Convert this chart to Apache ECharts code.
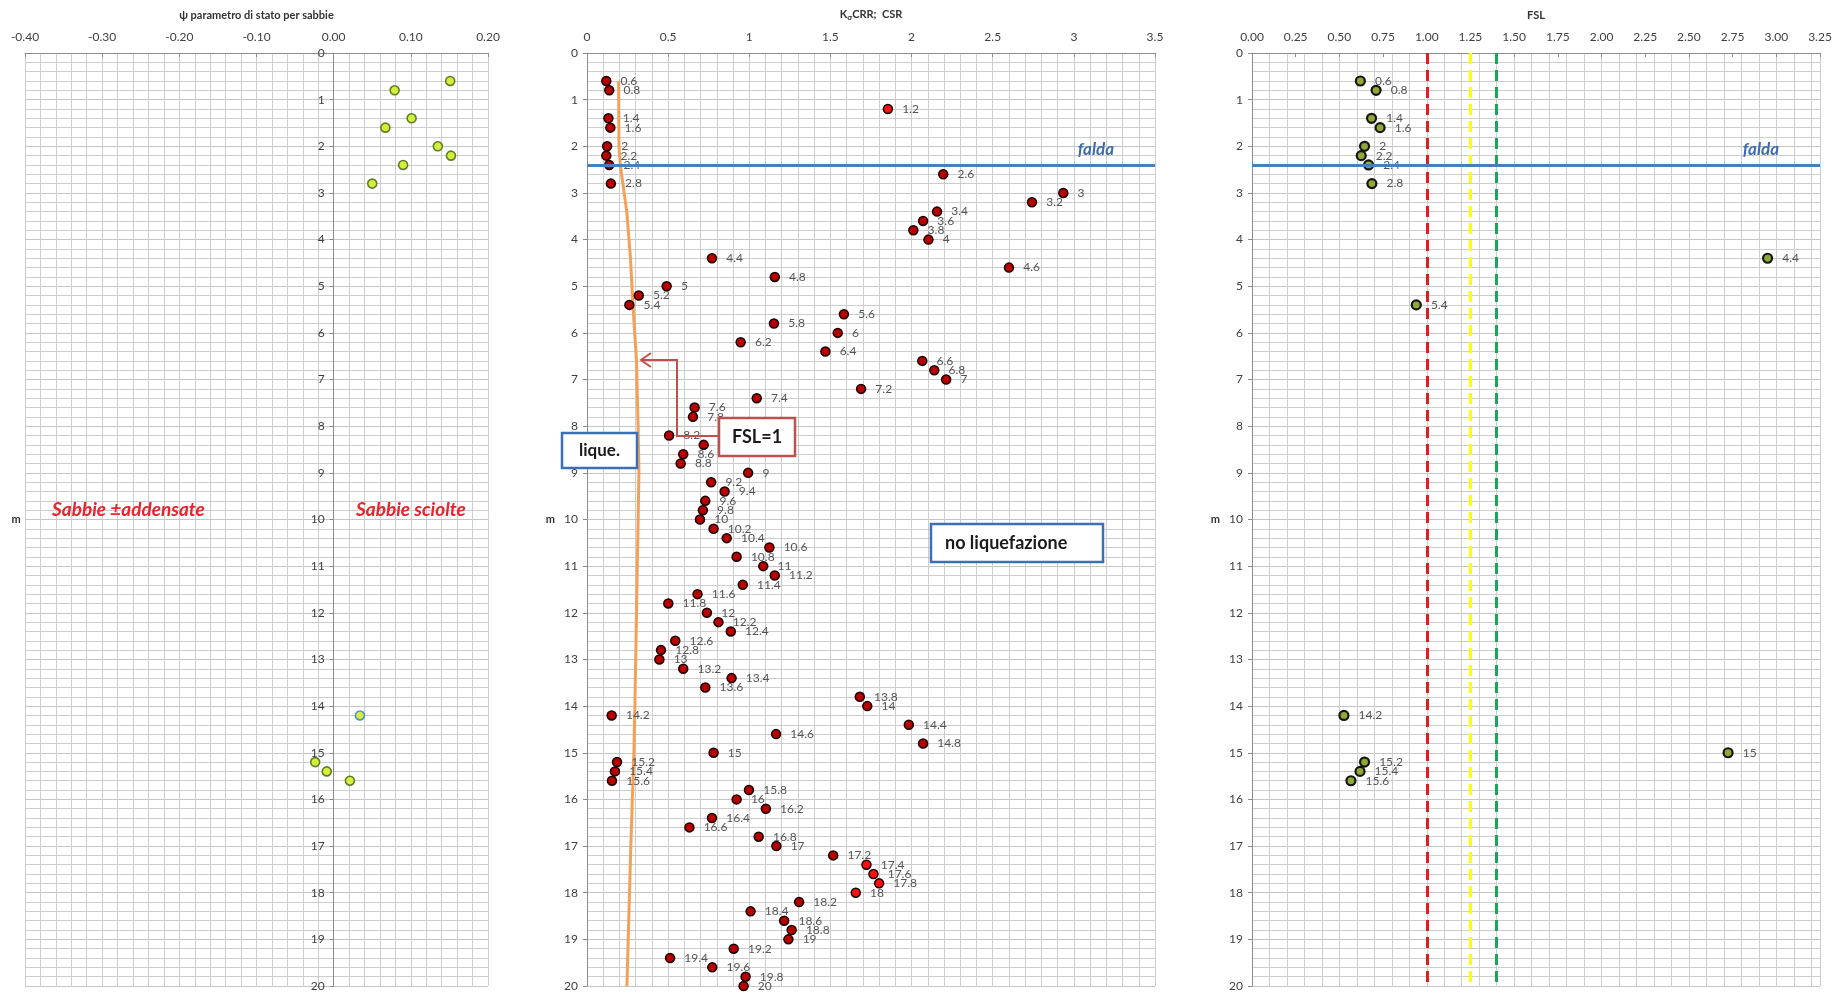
<!DOCTYPE html>
<html><head><meta charset="utf-8">
<script src="https://cdn.jsdelivr.net/npm/echarts@6/dist/echarts.min.js"></script>
<style>html,body{margin:0;padding:0;background:#fff}#c{width:1842px;height:1002px}</style>
</head><body><div id="c"></div>
<script>
// ---------- DATA ----------
const depthTicks = [0,1,2,3,4,5,6,7,8,9,10,11,12,13,14,15,16,17,18,19,20];

// Panel 1: state parameter psi
const psiDepths = [0.6,0.8,1.4,1.6,2.0,2.2,2.4,2.8,14.2,15.2,15.4,15.6];
const psiValues = [0.151,0.079,0.101,0.067,0.135,0.152,0.090,0.050,0.034,-0.024,-0.009,0.021];
const psiBlueEdge = [14.2];

// Panel 2: K_sigma CRR points and CSR curve
const crrDepths = [0.6,0.8,1.2,1.4,1.6,2.0,2.2,2.4,2.6,2.8,3.0,3.2,3.4,3.6,3.8,4.0,4.4,4.6,4.8,5.0,5.2,5.4,5.6,5.8,6.0,6.2,6.4,6.6,6.8,7.0,7.2,7.4,7.6,7.8,8.2,8.4,8.6,8.8,9.0,9.2,9.4,9.6,9.8,10.0,10.2,10.4,10.6,10.8,11.0,11.2,11.4,11.6,11.8,12.0,12.2,12.4,12.6,12.8,13.0,13.2,13.4,13.6,13.8,14.0,14.2,14.4,14.6,14.8,15.0,15.2,15.4,15.6,15.8,16.0,16.2,16.4,16.6,16.8,17.0,17.2,17.4,17.6,17.8,18.0,18.2,18.4,18.6,18.8,19.0,19.2,19.4,19.6,19.8,20.0];
const crrValues = [0.119,0.137,1.854,0.132,0.144,0.124,0.119,0.137,2.195,0.147,2.935,2.742,2.157,2.071,2.011,2.104,0.770,2.600,1.157,0.491,0.319,0.261,1.583,1.152,1.545,0.947,1.469,2.066,2.140,2.213,1.689,1.046,0.663,0.653,0.506,0.719,0.593,0.577,0.993,0.765,0.848,0.729,0.714,0.696,0.780,0.861,1.124,0.922,1.086,1.157,0.960,0.681,0.501,0.739,0.810,0.886,0.544,0.456,0.446,0.593,0.891,0.729,1.681,1.727,0.152,1.983,1.165,2.071,0.780,0.185,0.172,0.154,0.998,0.922,1.102,0.770,0.631,1.058,1.167,1.517,1.722,1.765,1.800,1.656,1.307,1.008,1.215,1.261,1.241,0.904,0.512,0.772,0.977,0.965];
const crrBright = [1.2,17.4,17.6,17.8,18.0];
const csrDepths = [0.6,2.0,2.4,3.4,4.4,5.4,6.6,8.0,9.0,10.0,12.0,14.0,15.0,17.0,18.0,20.0];
const csrValues = [0.195,0.197,0.205,0.245,0.268,0.283,0.305,0.315,0.320,0.315,0.305,0.295,0.289,0.270,0.262,0.246];

// Panel 3: FSL
const fslDepths = [0.6,0.8,1.4,1.6,2.0,2.2,2.4,2.8,4.4,5.4,14.2,15.0,15.2,15.4,15.6];
const fslValues = [0.620,0.710,0.684,0.733,0.644,0.625,0.667,0.686,2.950,0.940,0.526,2.724,0.644,0.618,0.566];
const fslThresholds = [1.0, 1.25, 1.4];

const faldaDepth = 2.4;

// ---------- CHART ----------
const FONT = 'Lato, "Liberation Sans", sans-serif';
const TXT = '#404040';
const GRIDC = '#cdcdcd';
const chart = echarts.init(document.getElementById('c'), null, {renderer:'canvas'});

const grids = [
  {left: 25, top: 53, width: 463, height: 933, containLabel: false, outerBoundsMode: 'none'},
  {left: 587, top: 53, width: 568, height: 933, containLabel: false, outerBoundsMode: 'none'},
  {left: 1252, top: 53, width: 568, height: 933, containLabel: false, outerBoundsMode: 'none'}
];
const psiMin = -0.4, psiMax = 0.2;
// shift of panel-1 depth axis from the grid's left edge to psi = 0
const psiZeroOffset = grids[0].width * (0 - psiMin) / (psiMax - psiMin);

function xAxisTop(gi, min, max, interval, name, fmt, minorSplit, extra) {
  return Object.assign({
    type: 'value', gridIndex: gi, position: 'top', min, max, interval,
    name, nameLocation: 'middle', nameGap: 32,
    nameTextStyle: {fontFamily: FONT, fontWeight: 'bold', fontSize: 11, color: '#333'},
    axisLine: {show: true, onZero: false, lineStyle: {color: '#8c8c8c', width: 1}},
    axisTick: {show: true, length: 4, inside: true, lineStyle: {color: '#8c8c8c'}},
    axisLabel: {fontFamily: FONT, fontSize: 12, color: TXT, margin: 10, formatter: fmt},
    splitLine: {show: true, lineStyle: {color: GRIDC, width: 1}},
    minorTick: {show: false},
    minorSplitLine: {show: !!minorSplit, lineStyle: {color: GRIDC, width: 1}},
  }, minorSplit ? {minorTick: {show: false, splitNumber: minorSplit}} : {}, extra || {});
}
function yAxisDepth(gi, nameGap, offset) {
  return {
    type: 'value', gridIndex: gi, inverse: true, min: 0, max: 20, interval: 1,
    position: 'left', offset: offset || 0,
    name: 'm', nameLocation: 'middle', nameRotate: 0, nameGap,
    nameTextStyle: {fontFamily: FONT, fontWeight: 'bold', fontSize: 11, color: '#333'},
    axisLine: {show: true, onZero: false, lineStyle: {color: '#8c8c8c', width: 1}},
    axisTick: {show: true, length: 4, lineStyle: {color: '#8c8c8c'}},
    axisLabel: {fontFamily: FONT, fontSize: 12, color: TXT, margin: 9,
      formatter: v => depthTicks.indexOf(v) >= 0 ? String(v) : ''},
    splitLine: {show: true, lineStyle: {color: '#c4c4c4', width: 1}},
    minorTick: {show: false, splitNumber: 5},
    minorSplitLine: {show: true, lineStyle: {color: GRIDC, width: 1}}
  };
}

const psiData = psiDepths.map((d, i) => ({
  value: [psiValues[i], d],
  itemStyle: {borderColor: psiBlueEdge.indexOf(d) >= 0 ? '#4f8fd6' : '#5b7f2a'}
}));
const crrData = crrDepths.map((d, i) => ({
  value: [crrValues[i], d],
  itemStyle: {color: crrBright.indexOf(d) >= 0 ? '#ff1010' : '#b80000'}
}));
const csrData = csrDepths.map((d, i) => [csrValues[i], d]);
const fslData = fslDepths.map((d, i) => [fslValues[i], d]);

const dataLabel = {
  show: true, position: 'right', distance: 9,
  fontFamily: FONT, fontSize: 12, color: '#555',
  formatter: p => String(p.value[1])
};
const faldaLabelStyle = {
  show: true, position: 'insideEndTop', formatter: 'falda',
  fontFamily: FONT, fontSize: 17, fontWeight: 'bold', fontStyle: 'italic',
  color: '#3d6bb0', padding: [0, 36, 2, 0]
};
const faldaLine = {color: '#4a7ebb', width: 3, type: 'solid'};
const threshColors = ['#e31c1c', '#ffff00', '#1fa35a'];

const option = {
  backgroundColor: '#ffffff',
  animation: false,
  grid: grids,
  xAxis: [
    xAxisTop(0, psiMin, psiMax, 0.1, 'ψ parametro di stato per sabbie', v => v.toFixed(2), 5),
    xAxisTop(1, 0, 3.5, 0.5, '{k|K}{s|σ}{k|CRR;  CSR}', v => String(v), 5, {
      nameTextStyle: {fontFamily: FONT, fontWeight: 'bold', fontSize: 11, color: '#333',
        rich: {k: {fontFamily: FONT, fontWeight: 'bold', fontSize: 11, color: '#333'},
               s: {fontFamily: FONT, fontWeight: 'bold', fontSize: 8, color: '#333', padding: [6, 0, 0, 0]}}}
    }),
    xAxisTop(2, 0, 3.25, 0.25, 'FSL', v => v.toFixed(2), 0, {splitLine: {show: false}}),
    {type: 'value', gridIndex: 2, position: 'top', min: 0, max: 3.25, interval: 0.1,
      axisLine: {show: false}, axisTick: {show: false}, axisLabel: {show: false},
      splitLine: {show: true, lineStyle: {color: GRIDC, width: 1}}}
  ],
  yAxis: [yAxisDepth(0, 313, -psiZeroOffset), yAxisDepth(1, 32), yAxisDepth(2, 32)],
  series: [
    {type: 'scatter', xAxisIndex: 0, yAxisIndex: 0, data: psiData, symbolSize: 9, z: 3,
      itemStyle: {color: '#d6ee3c', borderWidth: 1.6, opacity: 1}},
    {type: 'line', xAxisIndex: 1, yAxisIndex: 1, data: csrData, showSymbol: false, symbol: 'none', z: 2,
      lineStyle: {color: '#f6a057', width: 3}},
    {type: 'scatter', xAxisIndex: 1, yAxisIndex: 1, data: crrData, symbolSize: 9, z: 3,
      itemStyle: {borderColor: '#1a0000', borderWidth: 1.5, opacity: 1}, label: dataLabel},
    {type: 'scatter', xAxisIndex: 1, yAxisIndex: 1, data: [], z: 5,
      markLine: {silent: true, symbol: 'none', animation: false,
        data: [{yAxis: faldaDepth, lineStyle: faldaLine, label: faldaLabelStyle}]}},
    {type: 'scatter', xAxisIndex: 2, yAxisIndex: 2, data: [], z: 2,
      markLine: {silent: true, symbol: 'none', animation: false, label: {show: false},
        data: fslThresholds.map((t, i) => ({xAxis: t, lineStyle: {color: threshColors[i], width: 3, type: [11, 6]}}))}},
    {type: 'scatter', xAxisIndex: 2, yAxisIndex: 2, data: fslData, symbolSize: 9, z: 3,
      itemStyle: {color: '#8fa836', borderColor: '#151515', borderWidth: 2.2, opacity: 1}, label: dataLabel},
    {type: 'scatter', xAxisIndex: 2, yAxisIndex: 2, data: [], z: 5,
      markLine: {silent: true, symbol: 'none', animation: false,
        data: [{yAxis: faldaDepth, lineStyle: faldaLine, label: faldaLabelStyle}]}}
  ],
  graphic: [
    {type: 'text', left: 52, top: 500, z: 10, style: {text: 'Sabbie ±addensate', fontFamily: FONT, fontSize: 19, fontWeight: 'bold', fontStyle: 'italic', fill: '#e8242c'}},
    {type: 'text', left: 356, top: 500, z: 10, style: {text: 'Sabbie sciolte', fontFamily: FONT, fontSize: 19, fontWeight: 'bold', fontStyle: 'italic', fill: '#e8242c'}},
    // lique. box
    {type: 'rect', z: 10, shape: {x: 562, y: 433, width: 75, height: 35}, style: {fill: '#fff', stroke: '#3d6fb6', lineWidth: 2.5}},
    {type: 'text', z: 11, x: 599.5, y: 450.5, style: {text: 'lique.', fontFamily: FONT, fontSize: 17, fontWeight: 'bold', fill: '#1a1a1a', align: 'center', verticalAlign: 'middle'}},
    // FSL=1 box
    {type: 'rect', z: 10, shape: {x: 719, y: 418, width: 76, height: 38}, style: {fill: '#fff', stroke: '#c0504d', lineWidth: 2.5}},
    {type: 'text', z: 11, x: 757, y: 437, style: {text: 'FSL=1', fontFamily: FONT, fontSize: 18, fontWeight: 'bold', fill: '#1a1a1a', align: 'center', verticalAlign: 'middle'}},
    // arrow
    {type: 'polyline', z: 10, shape: {points: [[719, 436], [677, 436], [677, 360], [641, 360]]}, style: {stroke: '#c0504d', lineWidth: 2, fill: null}},
    {type: 'polyline', z: 10, shape: {points: [[651, 353], [641, 360], [651, 367]]}, style: {stroke: '#c0504d', lineWidth: 2, fill: null}},
    // no liquefazione box
    {type: 'rect', z: 10, shape: {x: 931, y: 524, width: 172, height: 38}, style: {fill: '#fff', stroke: '#3d6fb6', lineWidth: 2.5}},
    {type: 'text', z: 11, x: 945, y: 543, style: {text: 'no liquefazione', fontFamily: FONT, fontSize: 18, fontWeight: 'bold', fill: '#1a1a1a', align: 'left', verticalAlign: 'middle'}}
  ]
};
chart.setOption(option);
</script></body></html>
